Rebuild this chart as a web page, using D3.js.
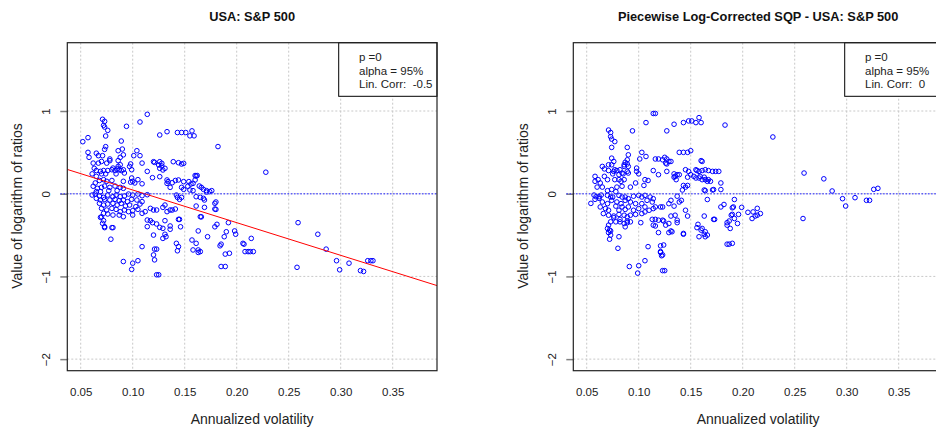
<!DOCTYPE html>
<html>
<head>
<meta charset="utf-8">
<script src="https://cdn.jsdelivr.net/npm/d3@7"></script>
<style>
  body { margin: 0; background: #fff; }
  svg { font-family: "Liberation Sans", Arial, sans-serif; display: block; }
</style>
</head>
<body>
<svg id="chart" width="936" height="428"></svg>
<script>
// tick labels
const xTicks = [0.05, 0.10, 0.15, 0.20, 0.25, 0.30, 0.35];
const yTicks = [-2, -1, 0, 1];

// legend text lines
const legendLeft = ["p =0", "alpha = 95%", "Lin. Corr:  -0.5"];
const legendRight = ["p =0", "alpha = 95%", "Lin. Corr:  0"];

// fitted line of the raw panel
const fitIntercept = 0.44;
const fitSlope = -3.95;

// raw log ratios vs annualized volatility
const rawPoints = [
  [.071,.90],[.073,.875],[.072,.827],[.073,.806],[.074,.698],[.076,.766],[.052,.629],[.057,.678],
  [.094,.815],[.107,.867],[.114,.96],[.074,.569],[.073,.536],[.089,.637],[.086,.52],[.090,.54],
  [.057,.50],[.058,.44],[.065,.49],[.067,.46],[.071,.46],[.088,.44],[.091,.47],[.086,.40],
  [.104,.52],[.107,.46],[.101,.46],[.078,.40],[.075,.37],[.078,.42],[.070,.39],[.062,.37],
  [.067,.37],[.098,.36],[.097,.33],[.099,.29],[.109,.37],[.114,.27],
  [.063,.307],[.065,.28],[.069,.27],[.072,.28],[.076,.28],[.080,.29],[.083,.28],[.085,.30],
  [.087,.29],[.089,.28],[.091,.29],[.086,.33],[.088,.35],[.081,.31],[.061,.24],[.065,.21],
  [.070,.24],[.074,.24],[.084,.24],[.092,.25],[.072,.17],[.068,.16],[.075,.15],[.080,.16],
  [.091,.15],[.099,.19],[.100,.15],[.105,.17],[.109,.12],[.102,.13],[.098,.14],[.064,.13],
  [.062,.09],[.066,.065],[.070,.077],[.073,.093],[.078,.077],[.083,.093],[.088,.077],[.091,.065],
  [.085,.037],[.077,.037],[.069,.025],[.065,.025],[.061,-.016],[.064,-.004],[.068,-.028],[.072,-.044],
  [.076,-.016],[.081,-.036],[.084,-.016],[.088,-.036],[.092,-.028],[.096,-.004],[.100,-.016],[.105,-.004],
  [.109,-.024],[.114,-.012],[.065,-.056],[.069,-.076],[.073,-.068],[.078,-.076],[.083,-.068],[.087,-.084],
  [.091,-.076],[.095,-.096],[.099,-.068],[.104,-.076],[.109,-.096],[.068,-.116],[.072,-.137],[.076,-.125],
  [.081,-.116],[.085,-.137],[.089,-.116],[.093,-.149],[.097,-.137],[.103,-.157],[.107,-.125],[.070,-.177],
  [.075,-.197],[.080,-.177],[.084,-.189],[.088,-.217],[.092,-.197],[.096,-.217],[.100,-.205],[.105,-.189],
  [.072,-.237],[.076,-.245],[.081,-.258],[.087,-.258],[.091,-.278],[.100,-.258],[.109,-.237],[.112,-.217],
  [.069,-.286],[.072,-.326],[.071,-.358],[.073,-.398],[.081,-.41],[.079,-.55],[.114,-.318],[.114,-.398],
  [.109,-.64],[.091,-.82],[.100,-.84],[.099,-.915],[.105,-.81],[.080,-.41],[.070,-.28],[.073,-.41],
  [.126,.71],[.133,.75],[.143,.74],[.147,.74],[.151,.74],[.157,.76],[.155,.70],[.159,.70],
  [.182,.57],[.120,.387],[.121,.379],[.126,.387],[.128,.367],[.128,.335],[.126,.307],[.129,.287],
  [.131,.307],[.125,.347],[.139,.387],[.144,.375],[.147,.359],[.149,.367],[.119,.194],[.126,.206],
  [.133,.166],[.134,.146],[.138,.133],[.136,.077],[.133,.125],[.144,.166],[.149,.146],[.154,.146],
  [.156,.117],[.158,.125],[.161,.214],[.160,.166],[.164,.093],[.166,.077],[.168,.053],[.171,.037],
  [.174,.025],[.176,.037],[.155,.045],[.158,.037],[.147,.077],[.149,.053],[.142,-.016],[.143,-.044],
  [.145,-.068],[.147,-.044],[.161,-.036],[.165,-.044],[.168,-.056],[.169,-.076],[.161,-.149],[.169,-.165],
  [.179,-.116],[.179,-.185],[.165,-.278],[.117,-.177],[.120,-.197],[.123,-.197],[.131,-.137],[.129,-.165],
  [.136,-.197],[.138,-.197],[.141,-.185],[.133,-.217],[.117,-.326],[.119,-.35],[.123,-.366],[.126,-.407],
  [.129,-.419],[.131,-.326],[.136,-.39],[.136,-.43],[.145,-.31],[.146,-.40],[.142,-.60],[.120,-.50],
  [.131,-.49],[.132,-.52],[.129,-.54],[.157,-.56],[.161,-.60],[.163,-.68],[.163,-.71],[.165,-.70],
  [.172,-.52],[.179,-.40],[.181,-.37],[.185,-.61],[.184,-.63],[.188,-.52],[.190,-.46],[.192,-.35],
  [.189,-.73],[.193,-.72],[.185,-.88],[.189,-.88],[.121,-.67],[.123,-.67],[.120,-.74],[.121,-.80],
  [.123,-.98],[.125,-.98],[.143,-.69],[.144,-.64],[.158,-.68],[.162,.22],[.160,.22],[.141,.16],
  [.153,.09],[.171,.02],[.180,-.10],[.180,-.19],[.163,-.45],[.166,-.28],[.144,-.31],
  [.198,-.45],[.199,-.49],[.206,-.60],[.207,-.61],[.208,-.70],[.211,-.70],[.213,-.70],[.216,-.70],
  [.214,-.54],[.228,.26],[.259,-.35],[.258,-.89],[.278,-.49],[.286,-.67],[.296,-.81],[.299,-.92],
  [.308,-.84],[.319,-.93],[.322,-.94],[.326,-.81],[.329,-.81],[.331,-.81]
];

// piecewise log-corrected log ratios vs annualized volatility
const correctedPoints = [
  [.071,.77],[.073,.74],[.073,.69],[.074,.66],[.077,.63],[.094,.76],[.107,.86],[.114,.97],
  [.074,.56],[.089,.56],[.090,.47],[.089,.41],[.103,.50],[.107,.45],[.101,.42],[.074,.43],
  [.076,.39],[.074,.35],[.071,.35],[.087,.38],[.089,.36],[.086,.33],[.090,.33],[.086,.35],
  [.065,.33],[.067,.30],[.071,.28],[.077,.29],[.076,.27],[.079,.28],[.082,.29],[.084,.25],
  [.085,.24],[.089,.27],[.090,.25],[.081,.23],[.075,.24],[.098,.31],[.098,.27],[.100,.24],
  [.106,.17],[.109,.16],[.114,.28],[.105,.10],[.058,.21],[.058,.15],[.061,.17],[.063,.13],
  [.065,.08],[.060,.08],[.067,.21],[.070,.17],[.077,.17],[.081,.17],[.083,.15],[.086,.17],
  [.084,.09],[.079,.08],[.092,.08],[.097,.13],[.074,.05],[.070,.037],[.078,.025],[.054,-.117],
  [.057,-.016],[.059,-.036],[.062,-.036],[.064,-.016],[.058,-.068],[.062,-.056],[.070,-.02],[.073,-.04],
  [.075,-.04],[.081,-.02],[.084,-.04],[.087,-.04],[.090,-.06],[.095,-.03],[.100,-.02],[.103,-.04],
  [.106,-.02],[.111,-.04],[.114,-.06],[.065,-.10],[.070,-.12],[.074,-.08],[.079,-.10],[.083,-.12],
  [.087,-.08],[.092,-.10],[.097,-.12],[.103,-.12],[.108,-.08],[.113,-.10],[.063,-.16],[.068,-.18],
  [.071,-.20],[.078,-.15],[.081,-.20],[.084,-.16],[.087,-.19],[.090,-.16],[.095,-.20],[.100,-.18],
  [.106,-.16],[.110,-.20],[.114,-.18],[.066,-.24],[.071,-.26],[.076,-.27],[.081,-.25],[.086,-.26],
  [.089,-.28],[.092,-.26],[.097,-.25],[.103,-.24],[.106,-.22],[.073,-.34],[.078,-.34],[.082,-.34],
  [.086,-.36],[.089,-.35],[.092,-.34],[.087,-.40],[.102,-.35],[.113,-.31],[.114,-.38],[.070,-.42],
  [.071,-.47],[.073,-.50],[.072,-.55],[.081,-.52],[.080,-.66],[.109,-.64],[.106,-.81],[.091,-.88],
  [.100,-.87],[.099,-.96],[.071,-.38],[.072,-.44],[.073,-.45],[.076,-.29],[.082,-.31],[.089,-.33],
  [.116,.97],[.127,.76],[.134,.84],[.143,.86],[.148,.88],[.151,.88],[.155,.86],[.158,.92],
  [.160,.86],[.183,.83],[.139,.50],[.143,.50],[.147,.50],[.150,.52],[.116,.42],[.119,.42],
  [.123,.41],[.125,.44],[.127,.42],[.129,.39],[.127,.36],[.131,.39],[.126,.37],[.161,.39],
  [.160,.40],[.119,.23],[.127,.27],[.134,.24],[.135,.21],[.137,.23],[.139,.23],[.134,.20],
  [.136,.17],[.145,.29],[.148,.27],[.150,.23],[.147,.20],[.155,.29],[.156,.28],[.158,.27],
  [.161,.28],[.164,.29],[.167,.28],[.171,.27],[.174,.27],[.177,.27],[.153,.21],[.155,.19],
  [.158,.19],[.159,.21],[.161,.17],[.163,.20],[.164,.17],[.167,.17],[.169,.15],[.166,.15],
  [.143,.10],[.145,.08],[.147,.10],[.179,.13],[.179,.05],[.163,.045],[.164,.037],[.171,.045],
  [.172,.05],[.142,.045],[.137,-.03],[.141,-.08],[.166,-.07],[.131,-.08],[.129,-.12],[.134,-.15],
  [.139,-.10],[.116,-.16],[.121,-.16],[.123,-.16],[.145,-.20],[.147,-.27],[.163,-.27],[.172,-.31],
  [.182,-.13],[.179,-.16],[.190,-.17],[.192,-.07],[.116,-.31],[.119,-.32],[.123,-.32],[.124,-.33],
  [.131,-.27],[.135,-.26],[.137,-.32],[.137,-.35],[.129,-.36],[.126,-.38],[.116,-.39],[.131,-.45],
  [.129,-.47],[.132,-.46],[.143,-.49],[.119,-.47],[.156,-.41],[.161,-.42],[.163,-.49],[.164,-.52],
  [.158,-.52],[.166,-.50],[.185,-.35],[.185,-.38],[.187,-.33],[.188,-.42],[.190,-.25],[.192,-.30],
  [.189,-.26],[.124,-.62],[.121,-.63],[.121,-.71],[.123,-.74],[.187,-.61],[.190,-.60],[.123,-.93],
  [.125,-.93],[.121,-.70],[.122,-.75],[.185,-.61],[.157,-.37],[.160,-.44],[.164,-.46],[.143,-.48],
  [.173,-.31],[.196,-.25],[.195,-.36],[.191,-.16],[.199,-.165],[.205,-.225],[.214,-.177],[.209,-.30],
  [.212,-.27],[.214,-.26],[.217,-.24],[.210,-.22],[.229,.686],[.259,.25],[.278,.18],[.286,.033],
  [.296,-.06],[.299,-.149],[.308,-.048],[.319,-.08],[.322,-.08],[.326,.053],[.330,.065],[.258,-.30]
];

const svg = d3.select("#chart");

const plotW = 369.7, plotH = 328, plotTop = 42.7;
const x = d3.scaleLinear().domain([0.0371, 0.3926]).range([0, plotW]);
const y = d3.scaleLinear().domain([-2.14, 1.826]).range([plotH, 0]);

function drawPanel(left, title, points, legendLines, showFit, clipId) {
  const g = svg.append("g").attr("transform", "translate(" + left + "," + plotTop + ")");

  g.append("defs").append("clipPath").attr("id", clipId)
    .append("rect").attr("width", plotW).attr("height", plotH);

  // title
  g.append("text")
    .attr("x", plotW / 2).attr("y", 20.5 - plotTop)
    .attr("text-anchor", "middle")
    .attr("font-weight", "bold").attr("font-size", 12.8).attr("fill", "#111")
    .text(title);

  // grid (dotted, light gray)
  g.selectAll(".vgrid").data(xTicks).enter().append("line")
    .attr("x1", d => x(d)).attr("x2", d => x(d))
    .attr("y1", 0).attr("y2", plotH)
    .attr("stroke", "#c8c8c8").attr("stroke-dasharray", "2,2");
  g.selectAll(".hgrid").data(yTicks).enter().append("line")
    .attr("x1", 0).attr("x2", plotW)
    .attr("y1", d => y(d)).attr("y2", d => y(d))
    .attr("stroke", "#c8c8c8").attr("stroke-dasharray", "2,2");

  // y axis: short gray ticks, rotated labels
  const yAxis = d3.axisLeft(y).tickValues(yTicks).tickSize(7).tickFormat(d3.format("d"));
  const ya = g.append("g").call(yAxis);
  ya.select(".domain").remove();
  ya.selectAll(".tick line").attr("stroke", "#808080").attr("stroke-width", 1.5);
  ya.selectAll(".tick text")
    .attr("font-family", "Liberation Sans, Arial, sans-serif")
    .attr("font-size", 11.5).attr("fill", "#222")
    .attr("x", 0).attr("dy", 0)
    .attr("text-anchor", "middle")
    .attr("transform", "translate(-20,0) rotate(-90)")
    .attr("dominant-baseline", "middle");

  // x axis: labels only
  const xAxis = d3.axisBottom(x).tickValues(xTicks).tickSize(0).tickFormat(d3.format(".2f"));
  const xa = g.append("g").attr("transform", "translate(0," + plotH + ")").call(xAxis);
  xa.select(".domain").remove();
  xa.selectAll(".tick text")
    .attr("font-family", "Liberation Sans, Arial, sans-serif")
    .attr("font-size", 11.5).attr("fill", "#222")
    .attr("y", 17.5);

  // axis titles
  g.append("text")
    .attr("x", plotW / 2).attr("y", 424 - plotTop)
    .attr("text-anchor", "middle").attr("font-size", 14).attr("fill", "#222")
    .text("Annualized volatility");
  g.append("text")
    .attr("transform", "translate(" + (18.5 - 67.3) + "," + (206 - plotTop) + ") rotate(-90)")
    .attr("text-anchor", "middle").attr("dominant-baseline", "middle")
    .attr("font-size", 14).attr("fill", "#222")
    .text("Value of logarithm of ratios");

  const inner = g.append("g").attr("clip-path", "url(#" + clipId + ")");

  // zero line
  g.append("line")
    .attr("x1", -7).attr("x2", plotW)
    .attr("y1", y(0)).attr("y2", y(0))
    .attr("stroke", "#3333ff").attr("stroke-opacity", 0.75)
    .attr("stroke-width", 1.6).attr("stroke-dasharray", "1.6,1.6");

  // points
  inner.selectAll("circle").data(points).enter().append("circle")
    .attr("cx", d => x(d[0])).attr("cy", d => y(d[1]))
    .attr("r", 2.3)
    .attr("fill", "none").attr("stroke", "#0000ff").attr("stroke-width", 1);

  // fitted line
  if (showFit) {
    const dom = x.domain();
    inner.append("line")
      .attr("x1", x(dom[0])).attr("y1", y(fitIntercept + fitSlope * dom[0]))
      .attr("x2", x(dom[1])).attr("y2", y(fitIntercept + fitSlope * dom[1]))
      .attr("stroke", "#ff0000").attr("stroke-width", 1);
  }

  // legend
  const lg = g.append("g").attr("transform", "translate(" + (plotW - 98.3) + ",0)");
  lg.append("rect").attr("width", 98.3).attr("height", 53.6)
    .attr("fill", "#fff").attr("stroke", "#000").attr("stroke-width", 1);
  lg.selectAll("text").data(legendLines).enter().append("text")
    .attr("x", 20.3).attr("y", (d, i) => 18.5 + i * 13.6)
    .attr("font-size", 11.5).attr("fill", "#222")
    .style("white-space", "pre")
    .text(d => d);

  // box
  g.append("rect").attr("width", plotW).attr("height", plotH)
    .attr("fill", "none").attr("stroke", "#222").attr("stroke-width", 1.2);
}

drawPanel(67.3, "USA: S&P 500", rawPoints, legendLeft, true, "clipL");
drawPanel(573.3, "Piecewise Log-Corrected SQP - USA: S&P 500", correctedPoints, legendRight, false, "clipR");
</script>
</body>
</html>
